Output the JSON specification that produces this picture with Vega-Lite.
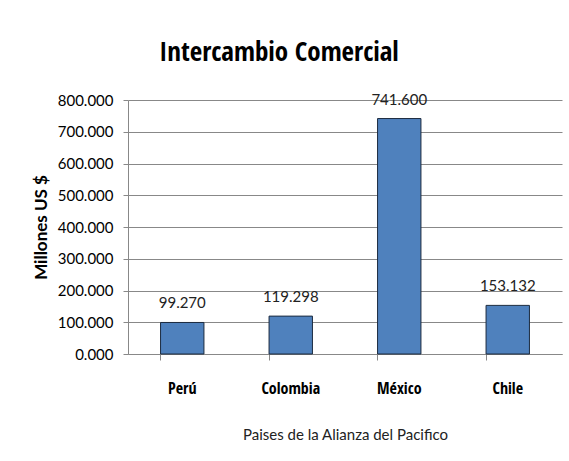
{
  "$schema": "https://vega.github.io/schema/vega-lite/v6.json",
  "autosize": "none",
  "width": 434,
  "height": 254,
  "padding": {"left": 128, "top": 100, "right": 7, "bottom": 107},
  "background": "white",
  "title": {
    "text": "Intercambio Comercial",
    "font": "Open Sans Condensed",
    "fontSize": 27,
    "fontWeight": "bold",
    "color": "#000000",
    "anchor": "middle",
    "dx": -66,
    "offset": 26
  },
  "data": {
    "values": [
      {"pais": "Perú", "valor": 99.27},
      {"pais": "Colombia", "valor": 119.298},
      {"pais": "México", "valor": 741.6},
      {"pais": "Chile", "valor": 153.132}
    ]
  },
  "encoding": {
    "x": {
      "field": "pais",
      "type": "nominal",
      "sort": null,
      "scale": {"paddingInner": 0.6, "paddingOuter": 0.3},
      "axis": {
        "title": "Paises de la Alianza del Pacifico",
        "titleFont": "Lato",
        "titleFontWeight": "normal",
        "titleFontSize": 15,
        "titleColor": "#222222",
        "titlePadding": 31,
        "labelAngle": 0,
        "labelFont": "Open Sans Condensed",
        "labelFontWeight": "bold",
        "labelFontSize": 16,
        "labelColor": "#000000",
        "labelPadding": 20,
        "bandPosition": 0,
        "tickSize": 6,
        "tickColor": "#888888",
        "domainColor": "#888888",
        "grid": false
      }
    },
    "y": {
      "field": "valor",
      "type": "quantitative",
      "scale": {"domain": [0, 800]},
      "axis": {
        "title": "Millones US $",
        "titleFont": "Lato",
        "titleFontWeight": "bold",
        "titleFontSize": 17,
        "titleColor": "#000000",
        "titlePadding": 7,
        "format": ".3f",
        "values": [0, 100, 200, 300, 400, 500, 600, 700, 800],
        "labelFont": "Lato",
        "labelFontSize": 15,
        "labelColor": "#000000",
        "labelPadding": 10,
        "tickSize": 5,
        "tickColor": "#888888",
        "domainColor": "#888888",
        "gridColor": "#888888",
        "gridWidth": 1
      }
    }
  },
  "layer": [
    {
      "mark": {"type": "bar", "color": "#4F81BD", "stroke": "#1c2b3f", "strokeWidth": 1}
    },
    {
      "mark": {"type": "text", "dy": -19, "font": "Lato", "fontSize": 15, "color": "#222222"},
      "encoding": {"text": {"field": "valor", "type": "quantitative", "format": ".3f"}}
    }
  ],
  "config": {"view": {"stroke": null}}
}
